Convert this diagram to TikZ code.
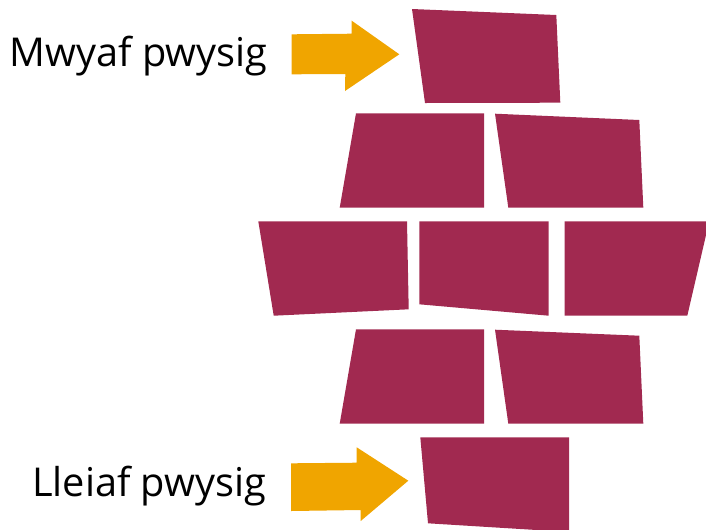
\documentclass[tikz,border=0pt]{standalone}
\usepackage{fontspec}
\setmainfont{Open Sans}
\definecolor{brickred}{RGB}{161,41,80}
\definecolor{arroworange}{RGB}{240,165,0}
\tikzset{
	brick/.style={fill=brickred, draw=none},
	blockarrow/.style={fill=arroworange, draw=none},
	labeltext/.style={font=\fontsize{29.8}{35}\selectfont, anchor=base east, inner sep=0pt}}
\tikzset{every picture/.style={line width=0.75pt}}

\begin{document}
\begin{tikzpicture}[x=0.75pt,y=0.75pt,yscale=-1,xscale=1]
	\useasboundingbox (0,0) rectangle (706,529);
	\clip (0,0) rectangle (706,529);

	%Shape: Brick top
	\path [brick] (412,9) -- (556.3,15) -- (560.3,102.7) -- (425,103) -- cycle ;
	%Shape: Brick row 2 left
	\path [brick] (356,113.3) -- (484,113.3) -- (484,207.7) -- (339.7,207.7) -- cycle ;
	%Shape: Brick row 2 right
	\path [brick] (495,113.7) -- (639.3,120) -- (643.3,207.7) -- (508.3,207.7) -- cycle ;
	%Shape: Brick row 3 left
	\path [brick] (258.3,221.3) -- (407,221.3) -- (408.7,309.3) -- (273.7,315.7) -- cycle ;
	%Shape: Brick row 3 middle
	\path [brick] (419.3,221.3) -- (548.7,221.3) -- (548.7,315.7) -- (419.3,304.3) -- cycle ;
	%Shape: Brick row 3 right
	\path [brick] (564.7,221.3) -- (709.2,221.3) -- (687.3,315.7) -- (564.7,315.7) -- cycle ;
	%Shape: Brick row 4 left
	\path [brick] (356,329.3) -- (484,329.3) -- (484,423.7) -- (339.7,423.7) -- cycle ;
	%Shape: Brick row 4 right
	\path [brick] (495,329.7) -- (639.3,335.7) -- (643.3,423.7) -- (508.3,423.7) -- cycle ;
	%Shape: Brick bottom
	\path [brick] (420.3,437.3) -- (569,437.3) -- (569,532) -- (428,523.3) -- cycle ;

	%Shape: Arrow top
	\path [blockarrow] (291.7,34.3) -- (351.7,33.7) -- (351.7,20.7) -- (399.3,54.3) -- (345,91) -- (345.3,74) -- (291.7,74.3) -- cycle ;
	%Shape: Arrow bottom
	\path [blockarrow] (291,463.3) -- (356.7,462.7) -- (356.7,447.3) -- (408.3,480.7) -- (360.7,521) -- (360.7,510) -- (291,511) -- cycle ;

	% Text Node
	\node [labeltext] (most) at (268,66.7) {Mwyaf pwysig};
	% Text Node
	\node [labeltext] (least) at (266.7,496.7) {Lleiaf pwysig};

\end{tikzpicture}
\end{document}
